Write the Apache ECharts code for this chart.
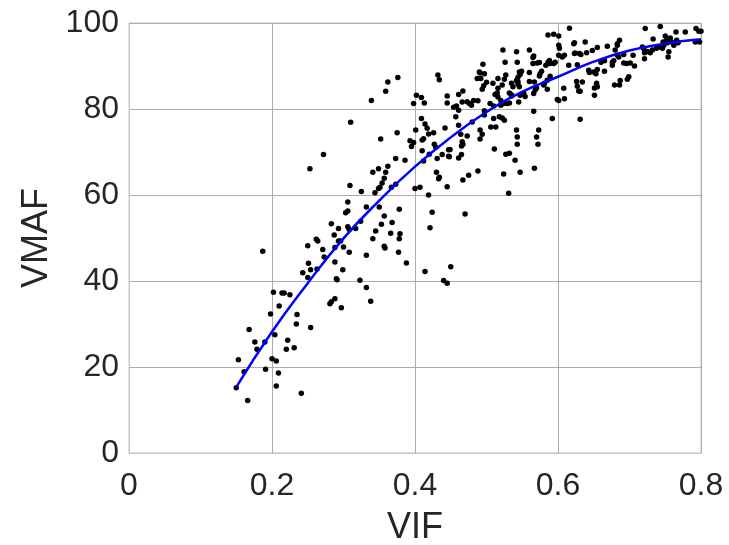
<!DOCTYPE html>
<html>
<head>
<meta charset="utf-8">
<script src="https://cdn.jsdelivr.net/npm/echarts@6/dist/echarts.min.js"></script>
<style>
html,body{margin:0;padding:0;background:#fff;}
#chart{width:729px;height:545px;}
</style>
</head>
<body>
<div id="chart"></div>
<script>
// Scatter points: [VIF, VMAF]
const pointsLowLeft = [[0.187,46.9],[0.250,48.2],[0.262,49.7],[0.264,49.3],[0.251,44.1],[0.243,41.9],[0.254,42.6],[0.250,40.8],[0.263,42.8],[0.202,37.4],[0.214,37.2],[0.217,37.2],[0.225,36.8],[0.210,34.2],[0.198,32.3],[0.235,32.2],[0.234,30.0],[0.168,28.7],[0.254,29.2],[0.204,27.5],[0.176,25.8],[0.190,25.8],[0.179,24.1],[0.222,26.2],[0.220,24.1],[0.231,24.5],[0.153,21.7],[0.200,21.9],[0.206,21.4],[0.161,18.9],[0.191,19.5],[0.209,18.6],[0.206,15.6],[0.241,13.9],[0.150,15.2],[0.166,12.2]];
const pointsMidLow = [[0.306,58.4],[0.303,55.9],[0.306,56.3],[0.332,57.2],[0.350,57.2],[0.378,56.7],[0.424,56.0],[0.421,52.4],[0.357,55.1],[0.283,53.3],[0.293,52.2],[0.306,52.6],[0.308,52.0],[0.317,52.2],[0.324,53.9],[0.353,53.2],[0.368,53.6],[0.345,51.6],[0.366,51.1],[0.379,51.0],[0.378,49.8],[0.341,49.8],[0.287,50.7],[0.293,49.3],[0.296,49.3],[0.271,47.3],[0.288,47.8],[0.300,47.9],[0.308,46.7],[0.332,46.0],[0.357,48.1],[0.358,47.7],[0.377,46.7],[0.273,45.6],[0.288,44.4],[0.388,44.2],[0.299,42.6],[0.290,40.5],[0.291,40.3],[0.323,40.2],[0.332,38.5],[0.414,42.2],[0.450,43.3],[0.440,40.1],[0.445,39.5],[0.283,35.2],[0.288,35.9],[0.281,34.7],[0.297,33.8],[0.338,35.3]];
const pointsMid = [[0.253,66.1],[0.272,69.4],[0.310,76.9],[0.339,82.0],[0.359,84.1],[0.362,86.3],[0.376,87.3],[0.352,73.0],[0.375,74.5],[0.309,62.2],[0.325,60.8],[0.341,65.3],[0.349,66.1],[0.362,66.7],[0.359,65.3],[0.357,63.9],[0.354,62.8],[0.351,61.8],[0.349,61.5],[0.344,60.5],[0.367,61.8],[0.373,62.5],[0.373,68.5],[0.386,68.1],[0.400,61.5],[0.407,61.8],[0.419,60.0],[0.398,81.3],[0.402,83.2],[0.409,82.7],[0.413,81.4],[0.432,87.9],[0.434,86.8],[0.445,83.0],[0.445,81.4],[0.409,77.8],[0.414,76.5],[0.417,75.5],[0.401,75.1],[0.419,74.2],[0.426,74.5],[0.442,75.6],[0.410,72.8],[0.412,73.1],[0.393,72.6],[0.398,72.2],[0.395,71.3],[0.410,70.3],[0.427,71.8],[0.429,71.1],[0.420,69.5],[0.412,67.9],[0.431,68.5],[0.438,69.4],[0.447,70.5],[0.447,69.0],[0.430,65.3],[0.434,64.1],[0.433,63.8],[0.445,61.9]];
const pointsMidRight = [[0.461,83.4],[0.467,84.2],[0.454,80.4],[0.458,80.7],[0.461,79.7],[0.466,81.6],[0.473,81.7],[0.476,81.3],[0.479,80.9],[0.482,82.0],[0.488,81.9],[0.491,88.4],[0.487,87.1],[0.461,76.2],[0.464,74.1],[0.480,77.0],[0.491,75.1],[0.491,73.0],[0.466,72.4],[0.467,71.8],[0.465,71.4],[0.449,70.6],[0.448,68.9],[0.461,68.6],[0.467,63.5],[0.475,64.6],[0.488,65.6],[0.470,55.6]];
const pointsUpper = [[0.457,78.2],[0.465,69.4],[0.495,90.4],[0.490,88.6],[0.497,88.2],[0.492,87.1],[0.500,86.2],[0.494,84.6],[0.496,85.4],[0.509,86.0],[0.516,87.1],[0.516,84.8],[0.523,93.7],[0.526,90.9],[0.542,93.3],[0.543,90.9],[0.560,93.7],[0.566,92.3],[0.565,92.0],[0.527,87.9],[0.525,86.9],[0.522,85.6],[0.535,86.0],[0.537,85.2],[0.515,83.7],[0.512,83.4],[0.516,82.8],[0.505,81.3],[0.510,80.7],[0.520,82.0],[0.535,83.3],[0.532,83.7],[0.544,87.4],[0.542,86.6],[0.546,88.6],[0.549,88.8],[0.547,88.0],[0.544,86.4],[0.546,85.2],[0.544,85.8],[0.560,88.5],[0.560,86.4],[0.567,86.3],[0.565,90.6],[0.571,90.7],[0.574,90.8],[0.575,88.2],[0.577,88.8],[0.574,87.7],[0.568,84.4],[0.570,84.9],[0.566,83.6],[0.581,86.0],[0.585,86.7],[0.589,87.6],[0.583,90.2],[0.586,90.9],[0.589,90.6],[0.588,91.3],[0.586,97.2],[0.594,97.4],[0.601,97.0],[0.601,94.8],[0.602,94.1],[0.616,98.8],[0.622,95.2],[0.594,90.6],[0.596,90.9],[0.601,92.5],[0.606,92.1],[0.609,92.5],[0.615,90.2],[0.623,92.9],[0.627,90.3],[0.630,92.9],[0.601,82.0],[0.599,82.2],[0.609,82.4],[0.608,84.8],[0.626,86.4],[0.627,85.3],[0.629,84.2],[0.592,77.8],[0.631,77.6],[0.566,79.5],[0.573,75.1],[0.570,73.5],[0.572,71.8],[0.542,75.1],[0.543,73.5],[0.543,71.8],[0.567,66.2],[0.547,65.3],[0.540,68.1],[0.532,69.7],[0.527,69.5],[0.524,64.9],[0.531,60.4],[0.511,70.7],[0.525,77.4],[0.522,77.9],[0.506,75.8],[0.513,75.8],[0.494,74.1],[0.497,79.6],[0.497,78.6],[0.520,80.9],[0.524,81.3],[0.529,81.3],[0.535,83.0],[0.532,81.4],[0.545,81.6],[0.547,83.2],[0.549,83.5],[0.552,83.7],[0.554,82.9],[0.580,85.6],[0.585,84.6],[0.510,77.8],[0.518,78.2],[0.473,73.7]];
const pointsRight = [[0.623,95.4],[0.638,95.6],[0.624,93.0],[0.632,92.7],[0.640,93.1],[0.648,93.6],[0.655,94.3],[0.669,94.6],[0.683,95.2],[0.686,96.0],[0.643,89.0],[0.644,88.5],[0.650,88.6],[0.653,88.2],[0.655,89.2],[0.662,91.3],[0.665,91.2],[0.660,90.9],[0.665,88.8],[0.676,90.2],[0.678,91.2],[0.676,90.9],[0.683,92.5],[0.685,92.1],[0.692,92.7],[0.692,90.7],[0.696,90.6],[0.701,90.7],[0.705,92.5],[0.707,90.0],[0.699,87.5],[0.697,86.9],[0.686,85.6],[0.679,85.6],[0.654,86.0],[0.655,85.2],[0.651,84.9],[0.651,83.2],[0.634,86.3],[0.631,84.1],[0.718,94.4],[0.720,94.0],[0.722,98.7],[0.725,93.4],[0.721,91.7],[0.721,93.1],[0.729,93.1],[0.732,93.7],[0.733,96.3],[0.738,94.1],[0.743,99.2],[0.743,94.4],[0.746,94.1],[0.748,94.8],[0.750,97.0],[0.752,96.0],[0.753,95.4],[0.755,93.3],[0.754,92.1],[0.757,96.5],[0.759,95.6],[0.762,94.8],[0.765,97.9],[0.766,96.0],[0.768,95.4],[0.778,97.9],[0.793,98.7],[0.797,98.1],[0.800,98.1],[0.792,95.6],[0.798,95.6],[0.747,95.6],[0.680,93.7],[0.683,94.8],[0.687,86.6]];

// Fitted curve
const fitVIF  = [0.15, 0.20, 0.25, 0.30, 0.35, 0.40, 0.45, 0.50, 0.55, 0.60, 0.65, 0.70, 0.75, 0.80];
const fitVMAF = [15.3, 28.2, 39.5, 49.9, 58.7, 66.6, 73.4, 79.3, 84.0, 87.5, 91.0, 93.6, 95.2, 96.2];

const xTicks = [0, 0.2, 0.4, 0.6, 0.8];
const yTicks = [0, 20, 40, 60, 80, 100];

const scatterData = [].concat(pointsLowLeft, pointsMidLow, pointsMid, pointsMidRight, pointsUpper, pointsRight);
const fitData = fitVIF.map((v, i) => [v, fitVMAF[i]]);

const chart = echarts.init(document.getElementById('chart'), null, {renderer: 'canvas'});
const fontFam = '"Liberation Sans", Helvetica, Arial, sans-serif';
chart.setOption({
  animation: false,
  backgroundColor: '#ffffff',
  grid: {left: 129, right: 28, top: 23, bottom: 92, show: true, borderColor: '#c4c4c4', borderWidth: 1,
    containLabel: false, outerBoundsMode: 'none'},
  xAxis: {
    type: 'value', min: xTicks[0], max: xTicks[xTicks.length - 1], interval: 0.2,
    name: 'VIF', nameLocation: 'middle', nameGap: 57,
    nameTextStyle: {fontSize: 36, color: '#262626', fontFamily: fontFam},
    axisLine: {show: true, lineStyle: {color: '#c4c4c4', width: 1}},
    axisTick: {show: false},
    axisLabel: {fontSize: 32, color: '#262626', fontFamily: fontFam, margin: 17,
      formatter: v => String(Math.round(v * 10) / 10)},
    splitLine: {show: true, lineStyle: {color: '#adadad', width: 1}}
  },
  yAxis: {
    type: 'value', min: yTicks[0], max: yTicks[yTicks.length - 1], interval: 20,
    name: 'VMAF', nameLocation: 'middle', nameGap: 74,
    nameTextStyle: {fontSize: 36, color: '#262626', fontFamily: fontFam},
    axisLine: {show: true, lineStyle: {color: '#c4c4c4', width: 1}},
    axisTick: {show: false},
    axisLabel: {fontSize: 32, color: '#262626', fontFamily: fontFam, margin: 10},
    splitLine: {show: true, lineStyle: {color: '#adadad', width: 1}}
  },
  series: [
    {
      type: 'scatter', data: scatterData, symbol: 'circle', symbolSize: 5.5,
      itemStyle: {color: '#000000', opacity: 1}, z: 2
    },
    {
      type: 'line', data: fitData, smooth: true, showSymbol: false,
      lineStyle: {color: '#0000ff', width: 2.5}, z: 3
    }
  ]
});
</script>
</body>
</html>
